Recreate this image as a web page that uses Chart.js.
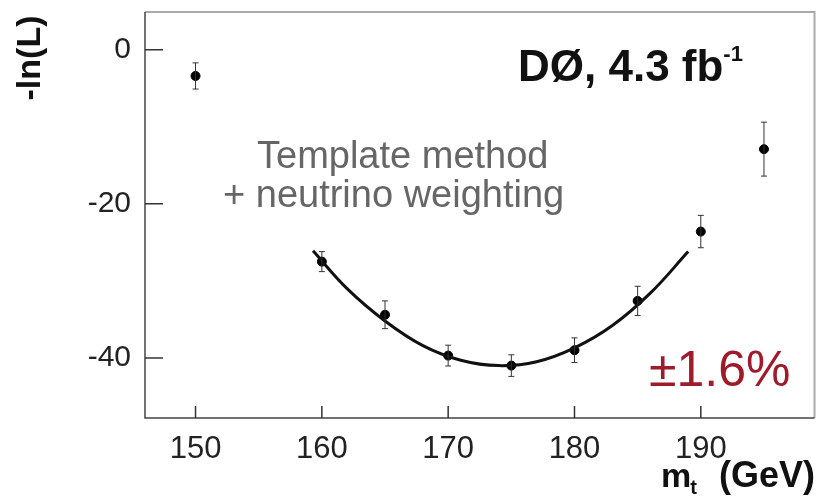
<!DOCTYPE html>
<html lang="en">

<head>
    <meta charset="UTF-8">
    <title>-ln(L) vs m_t</title>
    <script src="https://cdn.jsdelivr.net/npm/chart.js"></script>
    <style>
        body {
            margin: 0;
            background: #fff;
        }

        #wrap {
            width: 820px;
            height: 498px;
        }
    </style>
</head>

<body>
    <div id="wrap"><canvas id="chart"></canvas></div>

    <script>
        // measured points: top mass (GeV) vs -ln(L)
        const masses = [150, 160, 165, 170, 175, 180, 185, 190, 195];
        const negLogL = [-3.4, -27.5, -34.4, -39.7, -41.0, -39.0, -32.6, -23.6, -12.9];
        const errors = [1.7, 1.3, 1.8, 1.35, 1.4, 1.6, 1.9, 2.1, 3.5];

        // fitted curve
        const fitMasses = [159.3, 162, 165, 168, 171, 174, 177, 180, 183, 186, 189];
        const fitValues = [-26.1, -31.0, -35.2, -38.4, -40.3, -41.0, -40.5, -38.7, -35.8, -31.6, -26.2];

        const xTicks = [150, 160, 170, 180, 190];
        const yTicks = [-40, -20, 0];

        const FONT = '"Liberation Sans", Arial, Helvetica, sans-serif';

        // error bars, inward tick marks and the frame
        const decorations = {
            id: 'decorations',
            afterDatasetsDraw(chart) {
                const ctx = chart.ctx;
                const x = chart.scales.x, y = chart.scales.y;
                const a = chart.chartArea;
                ctx.save();

                // error bars
                ctx.strokeStyle = '#333';
                ctx.lineWidth = 1;
                masses.forEach((m, i) => {
                    const px = x.getPixelForValue(m);
                    const top = y.getPixelForValue(negLogL[i] + errors[i]);
                    const bot = y.getPixelForValue(negLogL[i] - errors[i]);
                    ctx.beginPath();
                    ctx.moveTo(px, top); ctx.lineTo(px, bot);
                    ctx.moveTo(px - 3, top); ctx.lineTo(px + 3, top);
                    ctx.moveTo(px - 3, bot); ctx.lineTo(px + 3, bot);
                    ctx.stroke();
                });

                // frame
                ctx.lineWidth = 2;
                ctx.strokeStyle = '#aaa';
                ctx.beginPath();
                ctx.moveTo(a.left, a.top); ctx.lineTo(a.right, a.top); ctx.lineTo(a.right, a.bottom);
                ctx.stroke();
                ctx.strokeStyle = '#444';
                ctx.lineWidth = 1.5;
                ctx.beginPath();
                ctx.moveTo(a.left, a.top); ctx.lineTo(a.left, a.bottom); ctx.lineTo(a.right, a.bottom);
                ctx.stroke();

                // tick marks pointing inwards
                ctx.strokeStyle = '#333';
                ctx.lineWidth = 1.5;
                ctx.beginPath();
                xTicks.forEach(v => {
                    const px = x.getPixelForValue(v);
                    ctx.moveTo(px, a.bottom); ctx.lineTo(px, a.bottom - 12);
                });
                yTicks.forEach(v => {
                    const py = y.getPixelForValue(v);
                    ctx.moveTo(a.left, py); ctx.lineTo(a.left + 18, py);
                });
                ctx.stroke();
                ctx.restore();
            }
        };

        // texts on the plot and axis titles
        const labels = {
            id: 'labels',
            afterDraw(chart) {
                const ctx = chart.ctx;
                ctx.save();
                ctx.textAlign = 'left';
                ctx.textBaseline = 'alphabetic';

                // experiment label
                ctx.fillStyle = '#111';
                ctx.font = 'bold 44px ' + FONT;
                const main = 'DØ, 4.3 fb';
                ctx.fillText(main, 518, 81);
                const w = ctx.measureText(main).width;
                ctx.font = 'bold 22px ' + FONT;
                ctx.fillText('-1', 518 + w, 61);

                // method
                ctx.fillStyle = '#666';
                ctx.font = '38px ' + FONT;
                ctx.fillText('Template method', 257, 168);
                ctx.fillText('+ neutrino weighting', 223, 207);

                // precision
                ctx.fillStyle = '#9e1b2b';
                ctx.font = '50px ' + FONT;
                ctx.fillText('±1.6%', 649, 386);

                // x title
                ctx.fillStyle = '#111';
                ctx.font = 'bold 34px ' + FONT;
                ctx.fillText('m', 661, 487);
                const mw = ctx.measureText('m').width;
                ctx.font = 'bold 20px ' + FONT;
                ctx.fillText('t', 661 + mw - 1, 494);
                ctx.font = 'bold 36px ' + FONT;
                ctx.textAlign = 'right';
                ctx.fillText('(GeV)', 815, 487);

                // y title
                ctx.translate(31, 58);
                ctx.rotate(-Math.PI / 2);
                ctx.textAlign = 'center';
                ctx.textBaseline = 'middle';
                ctx.font = 'bold 34px ' + FONT;
                ctx.fillText('-ln(L)', 0, 0);
                ctx.restore();
            }
        };

        new Chart(document.getElementById('chart'), {
            type: 'scatter',
            data: {
                datasets: [
                    {
                        label: 'fit',
                        type: 'line',
                        data: fitMasses.map((m, i) => ({ x: m, y: fitValues[i] })),
                        borderColor: '#111',
                        borderWidth: 3,
                        pointRadius: 0,
                        tension: 0.4,
                        fill: false
                    },
                    {
                        label: 'data',
                        data: masses.map((m, i) => ({ x: m, y: negLogL[i] })),
                        backgroundColor: '#000',
                        borderColor: '#000',
                        pointRadius: 4.5,
                        pointHoverRadius: 4.5
                    }
                ]
            },
            options: {
                responsive: true,
                maintainAspectRatio: false,
                animation: false,
                layout: { padding: { top: 12, right: 2, left: 0, bottom: 0 } },
                plugins: {
                    legend: { display: false },
                    tooltip: { enabled: false }
                },
                scales: {
                    x: {
                        type: 'linear',
                        min: 146,
                        max: 199,
                        afterBuildTicks: s => { s.ticks = xTicks.map(v => ({ value: v })); },
                        afterFit: s => { s.height = 80; s.paddingLeft = 0; s.paddingRight = 0; },
                        grid: { display: false },
                        border: { display: false },
                        ticks: {
                            color: '#222',
                            padding: 5,
                            maxRotation: 0,
                            font: { size: 31, family: FONT }
                        }
                    },
                    y: {
                        min: -47.8,
                        max: 4.9,
                        afterBuildTicks: s => { s.ticks = yTicks.map(v => ({ value: v })); },
                        afterFit: s => { s.width = 145; s.paddingTop = 0; s.paddingBottom = 0; },
                        grid: { display: false },
                        border: { display: false },
                        ticks: {
                            color: '#222',
                            padding: 6,
                            font: { size: 30, family: FONT }
                        }
                    }
                }
            },
            plugins: [decorations, labels]
        });
    </script>
</body>

</html>
